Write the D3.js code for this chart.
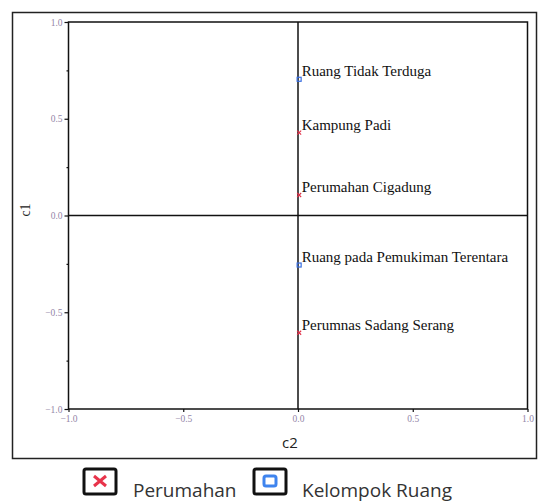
<!DOCTYPE html>
<html>
<head>
<meta charset="utf-8">
<script src="https://cdn.jsdelivr.net/npm/d3@7"></script>
<style>
  body { margin: 0; background: #fff; }
  .tick text { font-family: "Liberation Serif", serif; font-size: 9.5px; fill: #9486a8; }
  .lbl { font-family: "Liberation Serif", serif; font-size: 15px; fill: #111; letter-spacing: 0px; }
  .legend text { font-family: "Open Sans", sans-serif; font-size: 19px; fill: #333; }
</style>
</head>
<body>
<svg id="chart" width="538" height="503"></svg>
<script>
// values
var names = ["Ruang Tidak Terduga", "Kampung Padi", "Perumahan Cigadung", "Ruang pada Pemukiman Terentara", "Perumnas Sadang Serang"];
var groups = ["ruang", "perumahan", "perumahan", "ruang", "perumahan"];
var c2 = [0.005, 0.005, 0.005, 0.005, 0.005];
var c1 = [0.704, 0.428, 0.106, -0.256, -0.606];
var tickVals = [-1.0, -0.5, 0.0, 0.5, 1.0];
var legendNames = ["Perumahan", "Kelompok Ruang"];

var svg = d3.select("#chart");

// outer frame
svg.append("rect")
  .attr("x", 12.5).attr("y", 12.5)
  .attr("width", 524).attr("height", 446)
  .attr("fill", "none").attr("stroke", "#222").attr("stroke-width", 1.5);

var x = d3.scaleLinear().domain([-1, 1]).range([68.5, 527.5]);
var y = d3.scaleLinear().domain([-1, 1]).range([409, 22]);

// plot box
svg.append("rect")
  .attr("x", x(-1)).attr("y", y(1))
  .attr("width", x(1) - x(-1)).attr("height", y(-1) - y(1))
  .attr("fill", "none").attr("stroke", "#111").attr("stroke-width", 1.5);

// zero lines
svg.append("line")
  .attr("x1", x(-1)).attr("x2", x(1)).attr("y1", y(0)).attr("y2", y(0))
  .attr("stroke", "#111").attr("stroke-width", 1.5);
svg.append("line")
  .attr("x1", x(0)).attr("x2", x(0)).attr("y1", y(1)).attr("y2", y(-1))
  .attr("stroke", "#111").attr("stroke-width", 1.5);

var fmt = d3.format(".1f");
var xAxis = svg.append("g")
  .attr("transform", "translate(0," + y(-1) + ")")
  .call(d3.axisBottom(x).tickValues(tickVals).tickFormat(fmt).tickSize(3).tickPadding(3));
var yAxis = svg.append("g")
  .attr("transform", "translate(" + x(-1) + ",0)")
  .call(d3.axisLeft(y).tickValues(tickVals).tickFormat(fmt).tickSize(4).tickPadding(2));
// minor ticks on y
svg.append("g")
  .attr("transform", "translate(" + x(-1) + ",0)")
  .call(d3.axisLeft(y).tickValues([-0.75, -0.25, 0.25, 0.75]).tickFormat("").tickSize(2));
svg.selectAll(".domain").remove();
svg.selectAll(".tick line").attr("stroke", "#111").attr("stroke-width", 1.2);
xAxis.selectAll("text").attr("dy", "0.71em");

// axis titles
svg.append("text")
  .attr("x", 290).attr("y", 448)
  .attr("text-anchor", "middle")
  .style("font-family", "'Open Sans', sans-serif").style("font-size", "15px").style("fill", "#222")
  .text("c2");
svg.append("text")
  .attr("transform", "translate(30,210) rotate(-90)")
  .attr("text-anchor", "middle")
  .style("font-family", "'Liberation Serif', serif").style("font-size", "14px").style("fill", "#222")
  .text("c1");

// points
var pts = svg.append("g");
names.forEach(function(n, i) {
  var px = x(c2[i]), py = y(c1[i]);
  if (groups[i] == "ruang") {
    pts.append("rect")
      .attr("x", px - 2).attr("y", py - 2).attr("width", 4).attr("height", 4)
      .attr("fill", "none").attr("stroke", "#3a6fe0").attr("stroke-width", 1.2);
  } else {
    pts.append("path")
      .attr("d", "M" + (px - 2) + " " + (py - 2) + "L" + (px + 2) + " " + (py + 2) +
                 "M" + (px + 2) + " " + (py - 2) + "L" + (px - 2) + " " + (py + 2))
      .attr("stroke", "#e03048").attr("stroke-width", 1.1);
  }
  pts.append("text")
    .attr("class", "lbl")
    .attr("x", px + 2.5).attr("y", py - 3)
    .text(n);
});

// legend
var leg = svg.append("g").attr("class", "legend");
var boxX = [84, 254], textX = [133, 302];
legendNames.forEach(function(n, i) {
  leg.append("rect")
    .attr("x", boxX[i]).attr("y", 469).attr("width", 32).attr("height", 25)
    .attr("rx", 2).attr("fill", "#fff").attr("stroke", "#111").attr("stroke-width", 3);
  if (i == 0) {
    var cx = boxX[i] + 16, cy = 481;
    leg.append("path")
      .attr("d", "M" + (cx - 6) + " " + (cy - 5) + "L" + (cx + 6) + " " + (cy + 5) +
                 "M" + (cx + 6) + " " + (cy - 5) + "L" + (cx - 6) + " " + (cy + 5))
      .attr("stroke", "#e8334a").attr("stroke-width", 3);
  } else {
    leg.append("rect")
      .attr("x", boxX[i] + 10).attr("y", 476).attr("width", 12).attr("height", 10)
      .attr("rx", 2).attr("fill", "none").attr("stroke", "#3f84ee").attr("stroke-width", 3);
  }
  leg.append("text").attr("x", textX[i]).attr("y", 497).text(n);
});
</script>
</body>
</html>
